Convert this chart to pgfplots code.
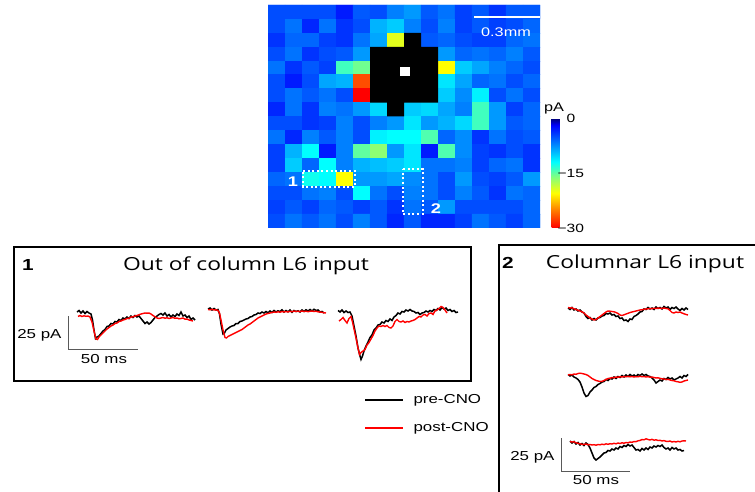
\documentclass[border=0pt]{standalone}
\usepackage{pgfplots}
\pgfplotsset{compat=1.18}
\usepackage{fontspec}
\setmainfont[FakeStretch=1.3]{Liberation Sans}
\newfontfamily\titlefont[FakeStretch=1.27]{Open Sans}
\begin{document}
\begin{tikzpicture}
% ---------------- heat map ----------------
\begin{axis}[at={(268pt,264pt)}, anchor=south west, scale only axis,
  width=272pt, height=223pt,
  xmin=-0.5, xmax=15.5, ymin=-0.5, ymax=15.5, y dir=reverse,
  enlargelimits=false, ticks=none, axis line style={draw=none},
  colormap={heat}{rgb255(0cm)=(255,0,0); rgb255(5cm)=(255,128,0); rgb255(9.5cm)=(255,255,0); rgb255(14cm)=(128,255,128); rgb255(18cm)=(0,255,255); rgb255(28cm)=(0,0,255); rgb255(30cm)=(0,0,110)},
  point meta min=-30, point meta max=0,
  colorbar,
  colorbar style={at={(parent axis.south east)}, anchor=south west, xshift=3pt,
    scale only axis, width=8pt, height=110pt,
    ytick={-30,-15,0}, yticklabels={−30,−15,\hphantom{−}0},
    ytick style={draw=none}, axis line style={draw=none},
    yticklabel style={font=\fontsize{12}{12}\selectfont, anchor=west, xshift=-5.5pt}},
]
\addplot[matrix plot*, mesh/cols=16, point meta=explicit] table[row sep=\\, meta=c]{
x y c\\
0 0 -5\\ 1 0 -5\\ 2 0 -5\\ 3 0 -5\\ 4 0 -3\\ 5 0 -5.5\\ 6 0 -5\\ 7 0 -7\\ 8 0 -8\\ 9 0 -5.5\\ 10 0 -6.5\\ 11 0 -4.5\\ 12 0 -5.5\\ 13 0 -4\\ 14 0 -5.5\\ 15 0 -5.5\\
0 1 -5\\ 1 1 -6.5\\ 2 1 -3.5\\ 3 1 -6.5\\ 4 1 -4\\ 5 1 -5\\ 6 1 -9\\ 7 1 -10\\ 8 1 -7\\ 9 1 -5\\ 10 1 -7\\ 11 1 -4.5\\ 12 1 -5.5\\ 13 1 -4.5\\ 14 1 -5\\ 15 1 -6\\
0 2 -4\\ 1 2 -6\\ 2 2 -6\\ 3 2 -4.5\\ 4 2 -4\\ 5 2 -6.5\\ 6 2 -8.5\\ 7 2 -19.5\\ 8 2 -5\\ 9 2 -5.5\\ 10 2 -6\\ 11 2 -5\\ 12 2 -4.5\\ 13 2 -4.5\\ 14 2 -6\\ 15 2 -6.5\\
0 3 -5\\ 1 3 -6.5\\ 2 3 -4\\ 3 3 -5\\ 4 3 -5.5\\ 5 3 -8\\ 6 3 -5\\ 7 3 -5\\ 8 3 -5\\ 9 3 -5\\ 10 3 -8\\ 11 3 -6\\ 12 3 -6.5\\ 13 3 -6\\ 14 3 -7\\ 15 3 -5.5\\
0 4 -6.5\\ 1 4 -4\\ 2 4 -5.5\\ 3 4 -4.5\\ 4 4 -14\\ 5 4 -15.5\\ 6 4 -5\\ 7 4 -5\\ 8 4 -5\\ 9 4 -5\\ 10 4 -20.5\\ 11 4 -10\\ 12 4 -8.5\\ 13 4 -7\\ 14 4 -6\\ 15 4 -5\\
0 5 -5\\ 1 5 -3\\ 2 5 -5\\ 3 5 -8.5\\ 4 5 -9\\ 5 5 -27\\ 6 5 -5\\ 7 5 -5\\ 8 5 -5\\ 9 5 -5\\ 10 5 -11\\ 11 5 -8.5\\ 12 5 -6\\ 13 5 -6.5\\ 14 5 -5\\ 15 5 -6\\
0 6 -5\\ 1 6 -6.5\\ 2 6 -5.5\\ 3 6 -6.5\\ 4 6 -5\\ 5 6 -30\\ 6 6 -5\\ 7 6 -5\\ 8 6 -5\\ 9 6 -5\\ 10 6 -10\\ 11 6 -7.5\\ 12 6 -11.5\\ 13 6 -5\\ 14 6 -6.5\\ 15 6 -5\\
0 7 -3.5\\ 1 7 -6.5\\ 2 7 -4\\ 3 7 -7\\ 4 7 -6.5\\ 5 7 -8\\ 6 7 -10.5\\ 7 7 -5\\ 8 7 -10\\ 9 7 -10.5\\ 10 7 -8.5\\ 11 7 -7\\ 12 7 -14\\ 13 7 -8\\ 14 7 -4.5\\ 15 7 -6\\
0 8 -5\\ 1 8 -5\\ 2 8 -4\\ 3 8 -4.5\\ 4 8 -7\\ 5 8 -5\\ 6 8 -7\\ 7 8 -8\\ 8 8 -11\\ 9 8 -8\\ 10 8 -9\\ 11 8 -10.5\\ 12 8 -14\\ 13 8 -8\\ 14 8 -5.5\\ 15 8 -6\\
0 9 -6.5\\ 1 9 -3.5\\ 2 9 -7\\ 3 9 -5.5\\ 4 9 -7\\ 5 9 -5\\ 6 9 -11.5\\ 7 9 -12\\ 8 9 -12\\ 9 9 -14.5\\ 10 9 -6\\ 11 9 -7.5\\ 12 9 -4\\ 13 9 -6.5\\ 14 9 -5\\ 15 9 -5.5\\
0 10 -4.5\\ 1 10 -9\\ 2 10 -12\\ 3 10 -3\\ 4 10 -7\\ 5 10 -15\\ 6 10 -16.5\\ 7 10 -8\\ 8 10 -11\\ 9 10 -3\\ 10 10 -14.5\\ 11 10 -7.5\\ 12 10 -4.5\\ 13 10 -4\\ 14 10 -5\\ 15 10 -4\\
0 11 -4.5\\ 1 11 -10\\ 2 11 -6\\ 3 11 -12\\ 4 11 -7\\ 5 11 -9\\ 6 11 -9.5\\ 7 11 -10\\ 8 11 -11\\ 9 11 -6.5\\ 10 11 -6.5\\ 11 11 -7\\ 12 11 -4.5\\ 13 11 -6\\ 14 11 -6.5\\ 15 11 -4\\
0 12 -6\\ 1 12 -6.5\\ 2 12 -12.5\\ 3 12 -12\\ 4 12 -20.5\\ 5 12 -8\\ 6 12 -8\\ 7 12 -8.5\\ 8 12 -7.5\\ 9 12 -6.5\\ 10 12 -5\\ 11 12 -8\\ 12 12 -5\\ 13 12 -4.5\\ 14 12 -5.5\\ 15 12 -8\\
0 13 -5\\ 1 13 -5\\ 2 13 -6.5\\ 3 13 -7\\ 4 13 -5\\ 5 13 -12\\ 6 13 -6.5\\ 7 13 -5\\ 8 13 -7\\ 9 13 -6.5\\ 10 13 -5\\ 11 13 -7\\ 12 13 -5.5\\ 13 13 -4\\ 14 13 -6.5\\ 15 13 -6\\
0 14 -4.5\\ 1 14 -5.5\\ 2 14 -4.5\\ 3 14 -6\\ 4 14 -5.5\\ 5 14 -4.5\\ 6 14 -5.5\\ 7 14 -4\\ 8 14 -6.5\\ 9 14 -5.5\\ 10 14 -8\\ 11 14 -5\\ 12 14 -5\\ 13 14 -5\\ 14 14 -5\\ 15 14 -6\\
0 15 -5\\ 1 15 -6.5\\ 2 15 -5.5\\ 3 15 -6.5\\ 4 15 -5\\ 5 15 -7\\ 6 15 -5.5\\ 7 15 -3.5\\ 8 15 -5.5\\ 9 15 -3.5\\ 10 15 -3.5\\ 11 15 -4.5\\ 12 15 -6.5\\ 13 15 -5.5\\ 14 15 -4.5\\ 15 15 -6\\
};
\addplot[fill=black, draw=none] coordinates {(7.5,1.5)(8.5,1.5)(8.5,2.5)(9.5,2.5)(9.5,6.5)(7.5,6.5)(7.5,7.5)(6.5,7.5)(6.5,6.5)(5.5,6.5)(5.5,2.5)(7.5,2.5)} -- cycle;
\addplot[fill=white, draw=none] coordinates {(7.26,3.95)(7.85,3.95)(7.85,4.59)(7.26,4.59)} -- cycle;
\end{axis}
% ---------------- canvas in pixel units ----------------
\begin{axis}[at={(0pt,0pt)}, anchor=south west, scale only axis,
  width=755pt, height=492pt, xmin=0, xmax=755, ymin=0, ymax=492,
  y dir=reverse, hide axis, clip=false]
% heat map overlays
\addplot[white, line width=2pt] coordinates {(474,17.3)(540,17.3)};
\node[white, font=\fontsize{12.5}{13}\selectfont] at (axis cs:506,32) {0.3mm};
\addplot[white, line width=2pt, dash pattern=on 2pt off 2.6pt] coordinates {(303,171)(355,171)(355,187)(303,187)} -- cycle;
\addplot[white, line width=2pt, dash pattern=on 2pt off 2.6pt] coordinates {(403,169)(423,169)(423,214)(403,214)} -- cycle;
\node[white, font=\bfseries\fontsize{14}{14}\selectfont] at (axis cs:293,182) {1};
\node[white, font=\bfseries\fontsize{14}{14}\selectfont] at (axis cs:436,209) {2};
\node[font=\fontsize{12.5}{13}\selectfont] at (axis cs:554,108) {pA};
% panel frames
\addplot[black, line width=1.6pt] coordinates {(14,247)(471,247)(471,381)(14,381)} -- cycle;
\addplot[black, line width=1.6pt] coordinates {(499,492)(499,245)(755,245)};
% titles
\node[font=\bfseries\fontsize{16}{16}\selectfont] at (axis cs:28,265) {1};
\node[font=\titlefont\fontsize{18}{18}\selectfont] at (axis cs:246,266) {Out of column L6 input};
\node[font=\bfseries\fontsize{16}{16}\selectfont] at (axis cs:508,263) {2};
\node[font=\titlefont\fontsize{18}{18}\selectfont] at (axis cs:645,264) {Columnar L6 input};
% scale bars
\addplot[black!65, line width=1pt] coordinates {(68,316)(68,349)(138,349)};
\node[anchor=east, font=\fontsize{13}{13}\selectfont] at (axis cs:65,335) {25 pA};
\node[font=\fontsize{13}{13}\selectfont] at (axis cs:104,359) {50 ms};
\addplot[black!65, line width=1pt] coordinates {(561,438)(561,471)(630,471)};
\node[anchor=east, font=\fontsize{13}{13}\selectfont] at (axis cs:558,457) {25 pA};
\node[font=\fontsize{13}{13}\selectfont] at (axis cs:596,480) {50 ms};
% legend
\addplot[black, line width=2.6pt] coordinates {(365,400)(403,400)};
\addplot[red, line width=2.6pt] coordinates {(365,428)(403,428)};
\node[anchor=west, font=\fontsize{13}{13}\selectfont] at (axis cs:410,400) {pre-CNO};
\node[anchor=west, font=\fontsize{13}{13}\selectfont] at (axis cs:410,428) {post-CNO};
% ---- panel 1 traces ----
\addplot[black, line width=1.5pt] coordinates {(77,312)(79,310.5)(81,313)(83,311)(85,313.5)(87,311.5)(89,313)(91,314)(92.5,320)(94,330)(95.5,338.5)(97,337)(99,336)(101,333.5)(103,331)(105,329.5)(107,326.5)(109,326)(111,323.5)(113,324)(115,321.5)(117,322)(119,319.5)(121,320.5)(123,318)(125,319)(127,317)(129,318.5)(131,316)(133,317.5)(135,315.5)(137,317)(139,316)(141,318.5)(143,321)(145,323.5)(147,322)(149,324)(151,322.5)(153,320)(155,317.5)(157,316)(159,314.5)(161,313.5)(163,315)(165,313)(167,316)(169,314.5)(171,317)(173,315)(175,316.5)(177,314)(179,315.5)(181,312)(183,316)(185,315)(187,317.5)(189,316)(191,319.5)(193,318)(195,320)};
\addplot[red, line width=1.4pt] coordinates {(78,316.5)(80,315.5)(82,316.5)(84,315.8)(86,316.3)(88,316)(90,317)(92,322)(94,331)(96,339)(97.5,339.5)(99,337)(101,335)(103,333)(105,331)(107,329)(109,327.5)(111,326)(113,325)(115,323.5)(117,323)(119,321.5)(121,321)(123,320)(125,319.5)(127,318.5)(129,318.3)(131,317)(133,316.8)(135,316)(137,315.5)(139,314.8)(141,314)(143,313.5)(145,313)(147,313.2)(149,313)(151,314)(153,315.5)(155,316.8)(157,318)(159,318.5)(161,318)(163,317.5)(165,318.2)(167,317.8)(169,318.5)(171,318)(173,317.5)(175,318.3)(177,318)(179,318.8)(181,318.5)(183,318)(185,319.2)(187,319)(189,320)(191,320.5)(193,321)};
\addplot[black, line width=1.5pt] coordinates {(208,309)(210,308)(212,310)(214,308.5)(216,310)(218,309.5)(219.5,314)(221,324)(223,334)(224.5,333)(226,330)(228,328.5)(230,327)(232,326)(234,325.5)(236,323.5)(238,323.5)(240,321.5)(242,321)(244,320)(246,319)(248,318.5)(250,317)(252,316.5)(254,315)(256,314.5)(258,313)(260,313.5)(262,312)(264,313)(266,311.5)(268,312.8)(270,311)(272,312.5)(274,310.5)(276,312)(278,310.8)(280,311.5)(282,309.8)(284,312)(286,310.5)(288,311.8)(290,310)(292,312.3)(294,310.5)(296,311.5)(298,310.8)(300,312)(302,310)(304,311.5)(306,309.8)(308,311)(310,309.5)(312,311)(314,309.3)(316,310.5)(318,310)(320,312)(322,311.5)(324,313)};
\addplot[red, line width=1.4pt] coordinates {(208,309.5)(210,309.8)(212,309.3)(214,310)(216,309.8)(218,310.5)(219.5,313)(221,320)(223,330)(225,337.5)(226.5,338)(228,336.5)(230,335.5)(232,334.5)(234,333.5)(236,332.5)(238,331.5)(240,330.5)(242,329.5)(244,328)(246,326.5)(248,325)(250,324)(252,322.5)(254,321)(256,319.5)(258,318)(260,317)(262,316)(264,315)(266,314)(268,313.5)(270,313)(272,312.5)(274,312)(276,312.3)(278,311.8)(280,312.2)(282,311.5)(284,312)(286,311.5)(288,312)(290,311.3)(292,311.7)(294,311)(296,311.5)(298,311.2)(300,311.6)(302,311)(304,311.5)(306,311.2)(308,311.7)(310,311.3)(312,311)(314,311.5)(316,311.2)(318,311.8)(320,312)(322,312.3)(324,312.8)(326,313)};
\addplot[black, line width=1.5pt] coordinates {(338,310.5)(340,312)(342,310)(344,312.5)(346,311)(348,312.5)(350,312)(352,316)(354,326)(356,336)(358,348)(360,356)(361,359.5)(362.5,356)(364,351)(366,346)(368,342)(370,337.5)(372,335)(374,330)(376,328)(378,325)(380,324.5)(382,322)(384,323)(386,320.5)(388,321.5)(390,319)(392,320.5)(394,317)(396,315.5)(398,313)(400,314)(402,311.5)(404,312)(406,310)(408,311)(410,309.5)(412,311)(414,311.5)(416,313)(418,312.5)(420,314.5)(422,313)(424,312.5)(426,311)(428,312)(430,310.5)(432,311.5)(434,309.5)(436,310.5)(438,308.5)(440,310)(442,307.5)(444,309)(446,308)(448,310.5)(450,309.5)(452,311.5)(454,310.5)(456,312.5)(458,312)};
\addplot[red, line width=1.4pt] coordinates {(339,321)(341,319.5)(343,317.5)(345,320.5)(347,323)(349,318.5)(351,316.5)(352.5,322)(354,329)(356,338)(358,348)(359.5,354.5)(361,352.5)(363,351)(365,349.5)(367,345)(369,342.5)(371,339)(373,335.5)(375,331)(377,328)(379,326)(381,326.5)(383,325.5)(385,326.5)(387,325.5)(389,327.5)(391,328)(393,326)(395,321.5)(397,319.5)(399,321.5)(401,322)(403,321)(405,322.5)(407,321.5)(409,322)(411,321)(413,320.5)(415,319.5)(417,318)(419,316.5)(421,317)(423,315)(425,314.5)(427,316)(429,313.5)(431,313)(433,314.5)(435,311)(437,310)(439,308.5)(441,306.5)(443,307.5)(445,310)(447,313)};
% ---- panel 2 traces ----
\addplot[black, line width=1.5pt] coordinates {(568,308)(570,309.5)(572,307.5)(574,310)(576,309)(578,311)(580,310)(582,312)(584,313)(586,316.5)(588,318.5)(590,317.5)(592,320)(594,318.5)(596,320)(598,318)(600,317.5)(602,316)(604,315.5)(606,313.5)(608,314)(610,313)(612,315)(614,314.5)(616,316.5)(618,316)(620,318.5)(622,318)(624,320.5)(626,320)(628,321.5)(630,319)(632,319.5)(634,316.5)(636,315.5)(638,314)(640,312)(642,311.5)(644,309)(646,309.5)(648,307.5)(650,309)(652,308)(654,309.5)(656,307)(658,308.5)(660,307.5)(662,309)(664,306.5)(666,308)(668,307)(670,309.5)(672,307.5)(674,308.5)(676,307)(678,309)(680,310.5)(682,308.5)(684,310)(686,308)(688,309.5)};
\addplot[red, line width=1.4pt] coordinates {(568,307.5)(570,308)(572,307.8)(574,308.8)(576,309.5)(578,310.2)(580,311)(582,311.8)(584,313)(586,315)(588,316.5)(590,318)(592,319)(594,320)(596,319.5)(598,318)(600,316.5)(602,315)(604,313.5)(606,312)(608,311)(610,311.2)(612,311.5)(614,311.8)(616,312.5)(618,313.5)(620,315)(622,315.5)(624,314.8)(626,314)(628,313.3)(630,312.5)(632,312)(634,311.5)(636,311)(638,310.5)(640,310)(642,309.7)(644,309.3)(646,309)(648,308.8)(650,308.5)(652,308.7)(654,308.3)(656,308.5)(658,308)(660,308.3)(662,308.5)(664,308)(666,308.5)(668,308.8)(670,310.5)(672,312.5)(674,313)(676,312)(678,312.5)(680,312)(682,313)(684,313.8)(686,314.5)(688,315)};
\addplot[black, line width=1.5pt] coordinates {(568,374.5)(570,376)(572,375)(574,377)(576,378)(578,379.5)(580,382)(582,387)(584,393)(586,396.5)(588,395.5)(590,392)(592,390)(594,387.5)(596,386.5)(598,384.5)(600,383.5)(602,382)(604,381.5)(606,379.5)(608,380.5)(610,378.5)(612,379)(614,377)(616,378.5)(618,376.5)(620,377.5)(622,375.5)(624,377)(626,375)(628,376.5)(630,374.5)(632,376)(634,375)(636,376.5)(638,374.5)(640,375.5)(642,374)(644,375.5)(646,374.5)(648,376)(650,376.5)(652,378)(654,380)(656,383)(658,381.5)(660,380)(662,381)(664,378.5)(666,379.5)(668,377.5)(670,379)(672,378)(674,380)(676,379)(678,378)(680,376.5)(682,378)(684,375.5)(686,376.5)(688,374.5)};
\addplot[red, line width=1.4pt] coordinates {(568,375)(570,374.5)(572,374.8)(574,374)(576,374.3)(578,373.5)(580,373.2)(582,373.5)(584,374)(586,374.5)(588,375.5)(590,377)(592,378.5)(594,379.5)(596,380.5)(598,381)(600,381.5)(602,381.3)(604,380.5)(606,379.5)(608,378.5)(610,378.3)(612,377.5)(614,377.8)(616,377)(618,377.3)(620,376.7)(622,377)(624,376.5)(626,376.8)(628,376.3)(630,376.8)(632,376.5)(634,377)(636,376.5)(638,376.8)(640,376.3)(642,376.7)(644,376.5)(646,377)(648,376.7)(650,377.2)(652,377)(654,377.5)(656,378)(658,377.8)(660,378.3)(662,378.8)(664,379)(666,379.5)(668,379.3)(670,380)(672,380.5)(674,380.8)(676,381.5)(678,381.8)(680,382.3)(682,382)(684,381)(686,380.5)(688,380)};
\addplot[black, line width=1.5pt] coordinates {(570,441)(572,443)(574,441.5)(576,444)(578,442.5)(580,445)(582,443.5)(584,445.5)(586,443)(588,444.5)(590,448)(592,453)(594,458)(596,460)(598,458.5)(600,457)(602,455)(604,453)(606,452.5)(608,450.5)(610,451)(612,449)(614,450)(616,448)(618,449)(620,446.5)(622,447.5)(624,445.5)(626,446.5)(628,444.5)(630,446)(632,445)(634,447.5)(636,450)(638,449.5)(640,451)(642,448.5)(644,450)(646,448)(648,449.5)(650,447)(652,448)(654,446)(656,447)(658,445.5)(660,446.5)(662,445)(664,447.5)(666,449)(668,448)(670,450)(672,447.5)(674,449)(676,448)(678,450)(680,449.5)(682,451)(684,450.5)};
\addplot[red, line width=1.4pt] coordinates {(570,441.5)(572,442)(574,441.8)(576,442.8)(578,443.3)(580,443.8)(582,444.3)(584,444.5)(586,444)(588,444.8)(590,444.5)(592,445)(594,444.7)(596,445.2)(598,444.5)(600,444.8)(602,444.2)(604,444.6)(606,443.8)(608,444.3)(610,443.7)(612,444)(614,443.3)(616,443.8)(618,443)(620,443.5)(622,442.8)(624,443.2)(626,442.5)(628,442.8)(630,442)(632,442.3)(634,441.5)(636,441.7)(638,440.8)(640,440.5)(642,439.5)(644,439.8)(646,438.8)(648,439.5)(650,440)(652,439.3)(654,440.2)(656,439.8)(658,440.5)(660,440.3)(662,441)(664,440.6)(666,441.3)(668,441.5)(670,441)(672,442)(674,441.5)(676,442)(678,441.3)(680,441.8)(682,441)(684,440.8)(686,441)};
\end{axis}
\pgfresetboundingbox
\useasboundingbox (0,0) rectangle (755pt,492pt);
\end{tikzpicture}
\end{document}
